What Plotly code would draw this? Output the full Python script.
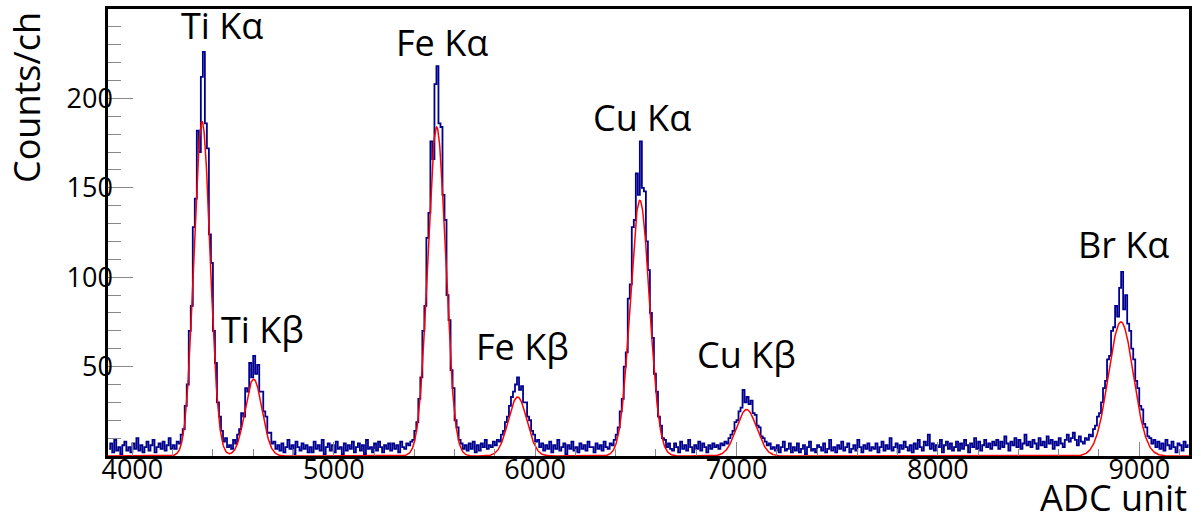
import numpy as np
import plotly.graph_objects as go

# ---------------- data ----------------
bin_start = 3880
bin_width = 10
counts = [
    4, 7, 2, 9, 3, 5, 1, 6, 8, 3, 5, 2, 7, 4, 10, 3, 6, 2, 5, 8,            # 3880
    3, 6, 9, 2, 5, 7, 4, 8, 3, 6, 10, 4, 6, 4, 8, 7, 12, 15, 28, 40,         # 4080
    70, 84, 128, 144, 182, 170, 212, 226, 186, 172, 124, 108, 70, 52, 30, 22, 14, 8, 10, 5,  # 4280
    6, 4, 9, 7, 12, 15, 24, 22, 38, 36, 52, 44, 56, 46, 51, 36, 36, 25, 22, 13,  # 4480
    13, 7, 8, 4, 6, 3, 7, 2, 5, 9, 4, 6, 1, 8, 5, 3, 7, 4, 6, 2,             # 4680
    5, 2, 8, 4, 6, 3, 9, 1, 5, 7, 3, 6, 2, 8, 4, 5, 1, 7, 3, 6,              # 4880
    4, 8, 2, 5, 7, 3, 6, 1, 9, 4, 5, 2, 7, 3, 8, 5, 2, 6, 4, 7,              # 5080
    3, 7, 4, 6, 2, 8, 5, 4, 7, 6, 8, 9, 14, 19, 32, 44, 70, 84, 122, 136,    # 5280
    176, 166, 208, 218, 186, 184, 146, 132, 90, 76, 48, 38, 20, 16, 9, 7, 4, 6, 3, 7,  # 5480
    4, 8, 2, 6, 3, 7, 5, 9, 4, 6, 5, 8, 6, 9, 8, 12, 14, 19, 22, 28,         # 5680
    33, 36, 40, 44, 37, 39, 30, 30, 22, 20, 14, 12, 8, 9, 5, 7, 3, 6, 4, 8,  # 5880
    2, 6, 4, 9, 3, 5, 7, 1, 6, 4, 8, 3, 5, 2, 7, 4, 6, 3, 8, 5,              # 6080
    5, 2, 7, 4, 6, 3, 8, 5, 4, 7, 6, 9, 12, 16, 25, 32, 50, 58, 88, 96,      # 6280
    128, 132, 158, 146, 176, 150, 148, 120, 104, 80, 66, 46, 36, 22, 17, 10, 9, 5, 7, 4,  # 6480
    3, 7, 5, 2, 8, 4, 6, 3, 9, 5, 2, 6, 4, 8, 3, 7, 5, 2, 6, 4,              # 6680
    7, 5, 6, 4, 7, 6, 8, 7, 10, 12, 14, 19, 20, 25, 27, 37, 30, 33, 29, 31,  # 6880
    24, 23, 17, 16, 11, 10, 8, 6, 7, 4, 5, 3, 6, 2, 5, 8, 3, 4, 7, 2,        # 7080
    5, 3, 7, 2, 4, 6, 1, 5, 8, 3, 4, 2, 6, 5, 3, 7, 2, 4, 9, 3,              # 7280
    5, 2, 6, 4, 8, 3, 5, 7, 2, 4, 6, 3, 9, 5, 2, 6, 4, 7, 3, 5,              # 7480
    4, 7, 2, 5, 8, 3, 6, 4, 10, 3, 5, 7, 2, 6, 4, 8, 5, 3, 6, 2,             # 7680
    7, 4, 9, 5, 3, 8, 6, 12, 4, 7, 3, 6, 5, 9, 2, 6, 8, 4, 7, 3,             # 7880
    5, 8, 3, 7, 4, 9, 6, 2, 7, 5, 10, 4, 8, 3, 6, 9, 5, 7, 4, 8,             # 8080
    6, 9, 4, 8, 5, 11, 7, 3, 8, 6, 10, 5, 9, 4, 7, 12, 6, 8, 5, 9,           # 8280
    7, 4, 10, 6, 8, 5, 11, 7, 9, 4, 8, 6, 10, 7, 5, 9, 12, 8, 10, 13,        # 8480
    9, 6, 11, 8, 7, 10, 9, 12, 11, 15, 17, 22, 24, 30, 38, 42, 54, 56, 70, 72,  # 8680
    84, 78, 94, 103, 82, 90, 74, 70, 60, 54, 42, 38, 28, 26, 18, 16, 11, 10, 7, 9,  # 8880
    5, 8, 4, 7, 3, 9, 6, 4, 8, 5, 2, 7, 6, 3, 8, 5, 6,                      # 9080
]

# Gaussian fit parameters
peak_amp = [187, 43, 184, 33, 143, 26, 75]
peak_mean = [4346, 4602, 5511, 5913, 6520, 7050, 8909]
peak_sigma = [40, 42, 44, 46, 48, 50, 62]

label_text = ["Ti Kα", "Ti Kβ", "Fe Kα", "Fe Kβ", "Cu Kα", "Cu Kβ", "Br Kα"]
label_x = [4443, 4647, 5536, 5938, 6530, 7051, 8924]
label_y = [240.5, 70.5, 231, 61.5, 189.5, 57, 118.5]

x_tick_vals = [4000, 5000, 6000, 7000, 8000, 9000]
y_tick_vals = [50, 100, 150, 200]
x_range = [3879, 9247]
y_range = [0, 250]

# ---------------- figure ----------------
centers = bin_start + bin_width * (np.arange(len(counts)) + 0.5)
xf = np.arange(x_range[0], x_range[1] + 1, 2.0)
yf = np.zeros_like(xf)
for a, m, s in zip(peak_amp, peak_mean, peak_sigma):
    yf += a * np.exp(-0.5 * ((xf - m) / s) ** 2)

FONT = "Open Sans, Lato, Noto Sans, sans-serif"

fig = go.Figure()
fig.add_trace(go.Scatter(x=centers, y=counts, mode="lines",
                         line=dict(color="#000090", width=1.8, shape="hvh"),
                         showlegend=False, hoverinfo="skip"))
fig.add_trace(go.Scatter(x=xf, y=yf, mode="lines",
                         line=dict(color="#ff0000", width=1.5),
                         showlegend=False, hoverinfo="skip"))

for t, x, y in zip(label_text, label_x, label_y):
    fig.add_annotation(x=x, y=y, xref="x", yref="y", text=t, showarrow=False,
                       font=dict(family=FONT, size=36, color="black"),
                       xanchor="center", yanchor="middle")

fig.add_annotation(x=-0.0754, y=0.802, xref="paper", yref="paper", text="Counts/ch",
                   textangle=-90, showarrow=False,
                   font=dict(family=FONT, size=36, color="black"),
                   xanchor="center", yanchor="middle")
fig.add_annotation(x=1.0, y=-0.1515, xref="paper", yref="paper", text="ADC unit",
                   showarrow=False, font=dict(family=FONT, size=36, color="black"),
                   xanchor="right", yanchor="bottom")

fig.update_xaxes(range=x_range, tickvals=x_tick_vals,
                 ticks="inside", ticklen=14, tickwidth=1, tickcolor="#888888",
                 minor=dict(dtick=200, ticks="inside", ticklen=7, tickcolor="#888888", tickwidth=1),
                 showline=True, linecolor="black", linewidth=2.5, mirror=True,
                 showgrid=False, zeroline=False, ticklabelstandoff=-12,
                 tickfont=dict(family=FONT, size=27, color="black"))
fig.update_yaxes(range=y_range, tickvals=y_tick_vals,
                 ticks="inside", ticklen=25, tickwidth=1, tickcolor="#888888",
                 minor=dict(dtick=10, ticks="inside", ticklen=13, tickcolor="#888888", tickwidth=1),
                 showline=True, linecolor="black", linewidth=2.5, mirror=True,
                 showgrid=False, zeroline=False, ticklabelstandoff=-13,
                 tickfont=dict(family=FONT, size=27, color="black"))

fig.update_layout(width=1201, height=523,
                  margin=dict(l=108, r=12, t=6, b=67),
                  plot_bgcolor="white", paper_bgcolor="white")

fig.write_html("out.html")
